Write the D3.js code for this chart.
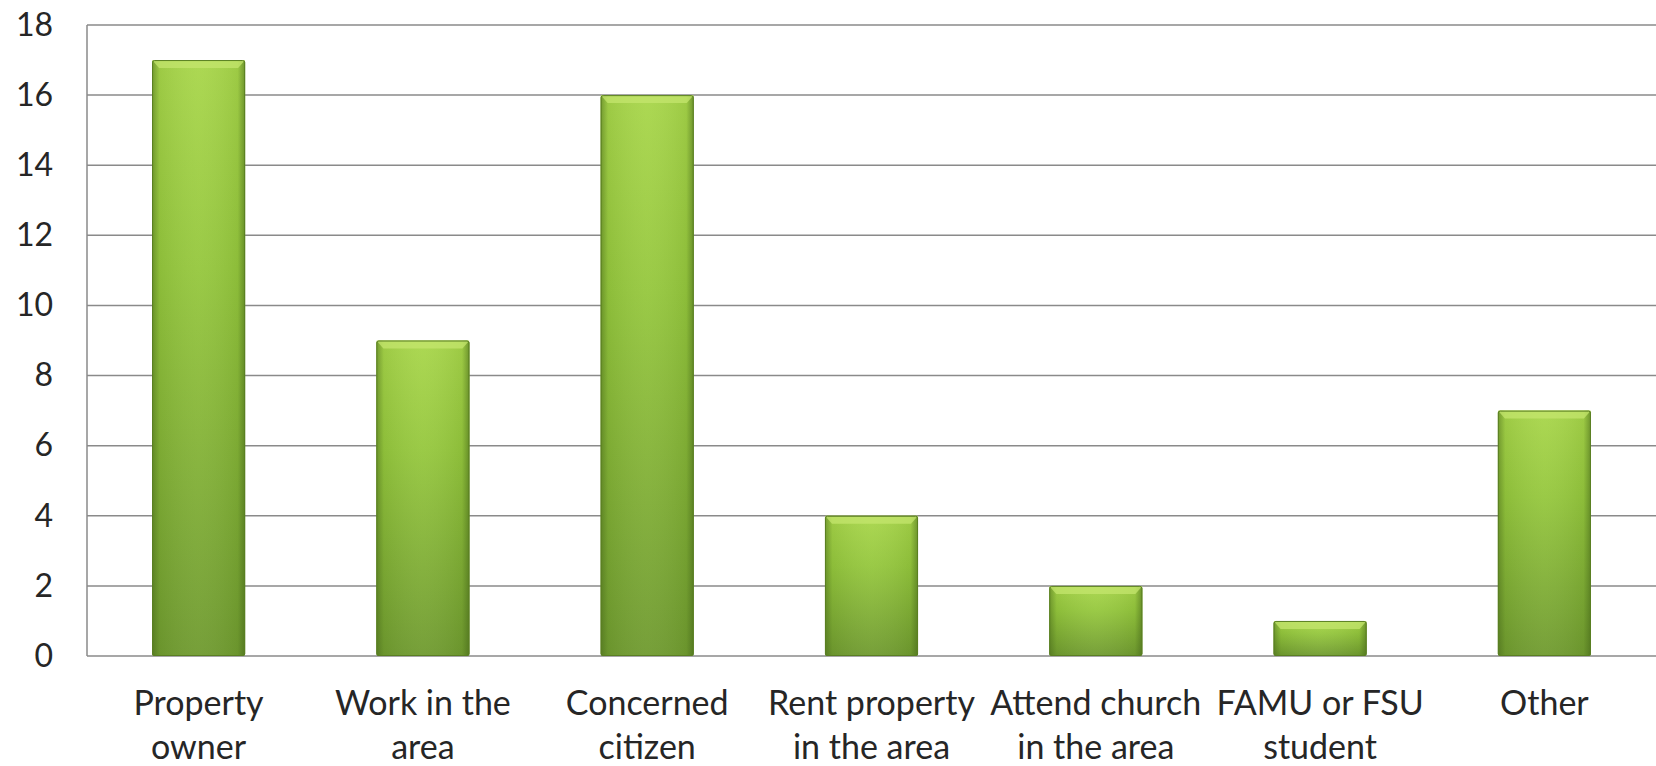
<!DOCTYPE html>
<html><head><meta charset="utf-8">
<script src="https://cdn.jsdelivr.net/npm/d3@7"></script>
<style>body{margin:0;background:#fff}svg{display:block}</style>
</head><body>
<svg id="c" width="1656" height="766"></svg>
<script>
const categories = [["Property","owner"],["Work in the","area"],["Concerned","citizen"],["Rent property","in the area"],["Attend church","in the area"],["FAMU or FSU","student"],["Other"]];
const values = [17, 9, 16, 4, 2, 1, 7];
const yTicks = [0,2,4,6,8,10,12,14,16,18];

const W = 1656, H = 766;
const m = {left: 87, right: 0, top: 25, bottom: 110};
const svg = d3.select("#c");
const defs = svg.append("defs");

const vg = defs.append("linearGradient").attr("id","gv").attr("x1",0).attr("y1",0).attr("x2",0).attr("y2",1);
[[0,"#a8d64a"],[0.35,"#95c73d"],[1,"#6f9a2f"]].forEach(s=>vg.append("stop").attr("offset",s[0]).attr("stop-color",s[1]));
const hg = defs.append("linearGradient").attr("id","gh").attr("x1",0).attr("y1",0).attr("x2",1).attr("y2",0);
[[0,"#3f5f16",0.5],[0.08,"#3f5f16",0.1],[0.5,"#ffffff",0.05],[0.92,"#3f5f16",0.1],[1,"#3f5f16",0.55]].forEach(s=>hg.append("stop").attr("offset",s[0]).attr("stop-color",s[1]).attr("stop-opacity",s[2]));

const x = d3.scaleBand().domain(d3.range(categories.length)).range([m.left, W - m.right]).paddingInner(0.585).paddingOuter(0.29);
const y = d3.scaleLinear().domain([0,18]).range([656, 25]);

// gridlines
svg.append("g").selectAll("line").data(yTicks).join("line")
  .attr("x1", m.left).attr("x2", W).attr("y1", d=>y(d)).attr("y2", d=>y(d))
  .attr("stroke", "#8a8a8a").attr("stroke-width", 1.5);
svg.append("line").attr("x1", m.left).attr("x2", m.left).attr("y1", y(18)).attr("y2", y(0)).attr("stroke","#8a8a8a").attr("stroke-width",1.5);

// y axis labels
const yAxis = d3.axisLeft(y).tickValues(yTicks).tickSize(0).tickPadding(34);
const ya = svg.append("g").attr("transform",`translate(${m.left},0)`).call(yAxis);
ya.select(".domain").remove();
ya.selectAll("text").attr("font-family","Lato, 'Open Sans', sans-serif").attr("font-size",32).attr("fill","#262626");

// bars
const bars = svg.append("g").selectAll("g").data(values).join("g");
bars.append("rect").attr("x",(d,i)=>x(i)).attr("y",d=>y(d)).attr("width",x.bandwidth()).attr("height",d=>y(0)-y(d))
  .attr("fill","url(#gv)").attr("rx",2);
bars.append("rect").attr("x",(d,i)=>x(i)).attr("y",d=>y(d)).attr("width",x.bandwidth()).attr("height",d=>y(0)-y(d))
  .attr("fill","url(#gh)").attr("rx",2);
// top bevel highlight
bars.append("path").attr("d",(d,i)=>{const x0=x(i), x1=x(i)+x.bandwidth(), t=y(d); return `M${x0},${t}L${x1},${t}L${x1-7},${t+8}L${x0+7},${t+8}Z`;})
  .attr("fill","#c4e66e").attr("opacity",0.75);
bars.append("rect").attr("x",(d,i)=>x(i)+0.5).attr("y",d=>y(d)+0.5).attr("width",x.bandwidth()-1).attr("height",d=>y(0)-y(d)-1)
  .attr("fill","none").attr("stroke","#5a7f22").attr("stroke-width",1).attr("rx",2);

// x labels
const xa = svg.append("g");
categories.forEach((lines,i)=>{
  const t = xa.append("text").attr("x", x(i)+x.bandwidth()/2).attr("y", 715)
    .attr("text-anchor","middle").attr("font-family","Lato, 'Open Sans', sans-serif").attr("font-size",34).attr("fill","#262626");
  lines.forEach((l,j)=>t.append("tspan").attr("x", x(i)+x.bandwidth()/2).attr("dy", j?44:0).text(l));
});
</script>
</body></html>
